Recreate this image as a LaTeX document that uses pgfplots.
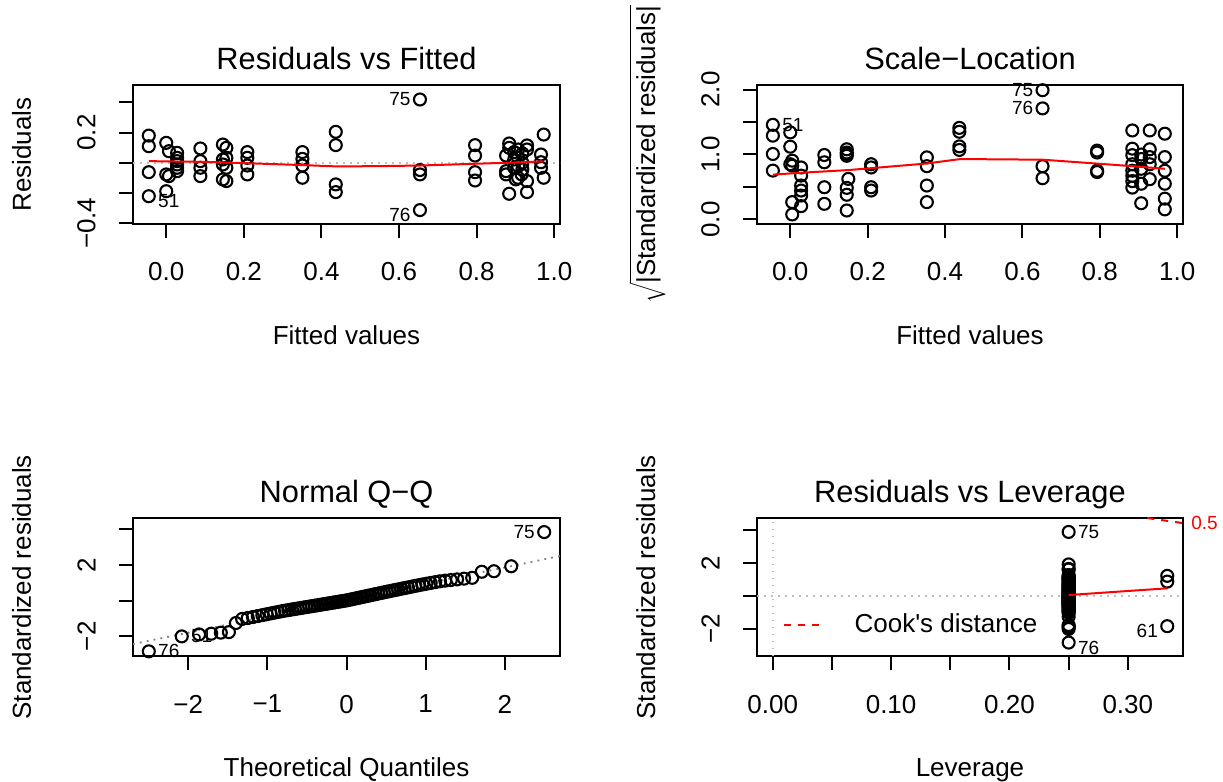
\documentclass[border=0pt]{standalone}
\usepackage{fontspec}
\setmainfont{Liberation Sans}
\usepackage{pgfplots}
\pgfplotsset{compat=1.18}
\definecolor{rgray}{HTML}{BEBEBE}
\definecolor{rgrayfifty}{HTML}{7F7F7F}
\newcommand{\lbl}{\fontsize{13}{15}\selectfont}
\newcommand{\ttl}{\fontsize{15.4}{18}\selectfont}
\newcommand{\idf}{\fontsize{9.5}{11}\selectfont}

\tikzset{idl/.style={font=\idf, inner sep=0pt}}
\pgfplotsset{
  rpanel/.style={
    scale only axis, anchor=south west,
    clip mode=individual,
    axis line style={line width=1pt},
    tick align=outside, major tick length=7pt,
    tick style={black, line width=1pt},
    tick pos=left,
    tick label style={font=\lbl, inner sep=0pt},
    xticklabel style={anchor=north},
    yticklabel style={rotate=90, anchor=south},
    xticklabel shift=12pt,
    yticklabel shift=11.5pt,
    label style={font=\lbl},
    title style={font=\ttl, anchor=base, at={(axis description cs:0.5,1.022)}},
    xlabel style={anchor=base, at={(axis description cs:0.5,-0.866)}},
    ylabel style={anchor=base, at={(axis description cs:-0.239,0.5)}},
  },
  pts/.style={only marks, mark=o, mark size=3pt, mark options={line width=1.05pt}, black},
  fit/.style={red, line width=1pt, no marks},
  refl/.style={rgray, line width=0.9pt, dash pattern=on 0.9pt off 2.6pt, no marks},
}

\begin{document}
\begin{tikzpicture}
\fill[white] (0,0) rectangle (611.5pt,391pt);
\useasboundingbox (0,0) rectangle (611.5pt,391pt);

% Residuals vs Fitted
\begin{axis}[rpanel, at={(66.5pt,279pt)}, width=213.5pt, height=69.5pt,
  xmin=-0.0857, xmax=1.015, ymin=-0.405, ymax=0.515,
  xtick={0,0.2,0.4,0.6,0.8,1}, xticklabels={0.0,0.2,0.4,0.6,0.8,1.0},
  ytick={-0.4,-0.2,0,0.2,0.4}, yticklabels={−0.4,{},{},0.2,{}},
  title={Residuals vs Fitted}, xlabel={Fitted values}, ylabel={Residuals}]
\addplot[refl] coordinates {(-0.0857,0) (1.015,0)};
\addplot[pts] coordinates {
(-0.045,0.180) (-0.045,0.110) (-0.045,-0.062) (-0.045,-0.221)
(0.000,0.132) (0.000,-0.077) (0.000,-0.188) (0.007,0.077) (0.007,-0.088)
(0.028,0.066) (0.028,0.033) (0.028,0.011) (0.028,-0.011) (0.028,-0.033) (0.028,-0.055)
(0.088,0.095) (0.088,0.011) (0.088,-0.033) (0.088,-0.088)
(0.146,0.121) (0.146,0.022) (0.146,-0.011) (0.146,-0.110)
(0.155,0.099) (0.155,0.033) (0.155,-0.033) (0.155,-0.121)
(0.209,0.071) (0.209,0.033) (0.209,-0.018) (0.209,-0.077)
(0.351,0.071) (0.351,0.026) (0.351,-0.018) (0.351,-0.099)
(0.437,0.205) (0.437,0.117) (0.437,-0.143) (0.437,-0.194)
(0.654,0.419) (0.654,-0.048) (0.654,-0.077) (0.654,-0.313)
(0.796,0.117) (0.796,0.048) (0.796,-0.062) (0.796,-0.117)
(0.876,0.048) (0.876,-0.055) (0.876,-0.077)
(0.884,0.128) (0.884,0.099) (0.884,-0.205)
(0.897,0.071) (0.897,0.022) (0.897,-0.033) (0.901,-0.110)
(0.907,0.088) (0.907,0.033) (0.907,-0.022) (0.907,-0.099)
(0.916,-0.077) (0.918,0.062) (0.918,0.000) (0.918,-0.044)
(0.930,0.115) (0.930,0.088) (0.930,-0.121) (0.930,-0.194)
(0.966,0.055) (0.966,0.004) (0.966,-0.033)
(0.973,0.187) (0.973,-0.099)
};
\addplot[fit] coordinates {(-0.045,0.011) (0.1,0.006) (0.2,-0.002) (0.35,-0.015) (0.44,-0.024)
 (0.55,-0.022) (0.654,-0.018) (0.8,-0.006) (0.9,0.002) (0.973,0.010)};
\node[idl, anchor=east, xshift=-4.5pt] at (axis cs:0.654,0.419) {75};
\node[idl, anchor=east, xshift=-4.5pt, yshift=-2.5pt] at (axis cs:0.654,-0.313) {76};
\node[idl, anchor=west, xshift=4.5pt, yshift=-2.5pt] at (axis cs:-0.045,-0.221) {51};
\end{axis}

% Scale-Location
\begin{axis}[rpanel, at={(378.5pt,279pt)}, width=213pt, height=69.5pt,
  xmin=-0.086, xmax=1.015, ymin=-0.07, ymax=2.07,
  xtick={0,0.2,0.4,0.6,0.8,1}, xticklabels={0.0,0.2,0.4,0.6,0.8,1.0},
  ytick={0,0.5,1,1.5,2}, yticklabels={0.0,{},1.0,{},2.0},
  title={Scale−Location}, xlabel={Fitted values},
  ylabel={$\sqrt{\mbox{|Standardized residuals|}}$}]
\addplot[pts] coordinates {
(-0.045,1.457) (-0.045,1.290) (-0.045,1.008) (-0.045,0.752)
(0.000,1.340) (0.000,1.120) (0.000,0.850)
(0.005,0.905) (0.005,0.828) (0.005,0.267) (0.005,0.077)
(0.028,0.800) (0.028,0.675) (0.028,0.522) (0.028,0.445) (0.028,0.368) (0.028,0.205)
(0.088,0.992) (0.088,0.880) (0.088,0.496) (0.088,0.240)
(0.146,1.080) (0.146,1.030) (0.146,1.008) (0.146,0.980) (0.150,0.624) (0.146,0.486) (0.146,0.380) (0.146,0.138)
(0.209,0.850) (0.209,0.800) (0.209,0.496) (0.209,0.445)
(0.353,0.956) (0.353,0.820) (0.353,0.522) (0.353,0.267)
(0.437,1.410) (0.437,1.350) (0.437,1.125) (0.437,1.070)
(0.652,1.990) (0.652,1.710) (0.652,0.820) (0.652,0.635)
(0.793,1.060) (0.793,1.030) (0.793,0.750) (0.793,0.730)
(0.884,1.370) (0.884,1.090) (0.884,0.990) (0.884,0.850) (0.884,0.750) (0.884,0.670) (0.884,0.590) (0.884,0.490)
(0.907,1.000) (0.907,0.930) (0.907,0.780) (0.907,0.550) (0.907,0.250)
(0.929,1.370) (0.929,1.080) (0.929,0.960) (0.929,0.850) (0.929,0.620)
(0.968,1.320) (0.968,0.960) (0.968,0.750) (0.968,0.550) (0.968,0.320) (0.968,0.155)
};
\addplot[fit] coordinates {(-0.045,0.69) (0.03,0.72) (0.15,0.76) (0.21,0.79) (0.35,0.86)
 (0.44,0.93) (0.652,0.92) (0.793,0.86) (0.884,0.82) (0.968,0.78)};
\node[idl, anchor=east, xshift=-4.5pt] at (axis cs:0.652,1.99) {75};
\node[idl, anchor=east, xshift=-4.5pt] at (axis cs:0.652,1.71) {76};
\node[idl, anchor=west, xshift=4.5pt] at (axis cs:-0.045,1.457) {51};
\end{axis}

% Normal Q-Q
\begin{axis}[rpanel, at={(66.5pt,62.75pt)}, width=213.5pt, height=69.25pt,
  xmin=-2.6975, xmax=2.6975, ymin=-3.14, ymax=4.64,
  xtick={-2,-1,0,1,2}, xticklabels={−2,−1,0,1,2},
  ytick={-2,0,2,4}, yticklabels={−2,{},2,{}},
  title={Normal Q−Q}, xlabel={Theoretical Quantiles}, ylabel={Standardized residuals}]
\addplot[rgrayfifty, line width=0.9pt, dash pattern=on 0.9pt off 2.6pt] coordinates {(-2.6975,-2.441) (2.6975,2.501)};
\addplot[pts] coordinates {
(-2.4977,-2.85) (-2.0812,-2.01) (-1.8627,-1.90) (-1.7091,-1.86) (-1.5880,-1.80)
(-1.4857,-1.77) (-1.3971,-1.26) (-1.3185,-1.03) (-1.2473,-0.980) (-1.1815,-0.921)
(-1.1206,-0.867) (-1.0637,-0.816) (-1.0102,-0.768) (-0.9592,-0.722) (-0.9107,-0.679)
(-0.8643,-0.638) (-0.8199,-0.598) (-0.7765,-0.563) (-0.7347,-0.532) (-0.6944,-0.502)
(-0.6547,-0.473) (-0.6166,-0.445) (-0.5791,-0.417) (-0.5425,-0.390) (-0.5066,-0.364)
(-0.4712,-0.338) (-0.4365,-0.312) (-0.4023,-0.287) (-0.3686,-0.262) (-0.3352,-0.237)
(-0.3022,-0.213) (-0.2696,-0.189) (-0.2372,-0.165) (-0.2051,-0.141) (-0.1732,-0.118)
(-0.1415,-0.094) (-0.1099,-0.071) (-0.0785,-0.048) (-0.0471,-0.025) (-0.0157,-0.002)
(0.0157,0.025) (0.0471,0.055) (0.0785,0.085) (0.1099,0.116) (0.1415,0.146)
(0.1732,0.176) (0.2051,0.207) (0.2372,0.238) (0.2696,0.269) (0.3022,0.300)
(0.3352,0.332) (0.3686,0.364) (0.4023,0.396) (0.4365,0.429) (0.4712,0.462)
(0.5066,0.496) (0.5425,0.529) (0.5791,0.562) (0.6166,0.596) (0.6547,0.631)
(0.6944,0.667) (0.7347,0.704) (0.7765,0.742) (0.8199,0.781) (0.8643,0.822)
(0.9107,0.864) (0.9592,0.907) (1.0102,0.948) (1.0637,0.991) (1.1206,1.036)
(1.1815,1.085) (1.2473,1.122) (1.3185,1.155) (1.3971,1.191) (1.4857,1.233)
(1.5880,1.280) (1.7091,1.62) (1.8627,1.65) (2.0812,1.93) (2.4977,3.85)
};
\node[idl, anchor=east, xshift=-4.5pt] at (axis cs:2.4977,3.85) {75};
\node[idl, anchor=west, xshift=4.5pt] at (axis cs:-2.4977,-2.85) {76};
\node[idl, anchor=west, xshift=4.5pt] at (axis cs:-2.0812,-2.01) {51};
\end{axis}

% Residuals vs Leverage
\begin{axis}[rpanel, at={(378.5pt,62.75pt)}, width=213pt, height=69.25pt,
  xmin=-0.0133, xmax=0.3466, ymin=-3.69, ymax=4.76,
  xtick={0,0.05,0.1,0.15,0.2,0.25,0.3}, xticklabels={0.00,{},0.10,{},0.20,{},0.30},
  ytick={-2,0,2,4}, yticklabels={−2,{},2,{}},
  title={Residuals vs Leverage}, xlabel={Leverage}, ylabel={Standardized residuals},
  legend style={draw=none, fill=none, at={(0.045,0.227)}, anchor=west,
    nodes={inner sep=0pt, font=\lbl}},
  legend image code/.code={\draw[#1] (0pt,0pt) -- (20pt,0pt); \path (35pt,0pt);}]
\addplot[refl, forget plot] coordinates {(-0.0133,0) (0.3466,0)};
\addplot[refl, forget plot] coordinates {(0,-3.69) (0,4.76)};
\addplot[pts, forget plot] coordinates {
(0.25,-2.01) (0.25,-1.90) (0.25,-1.86) (0.25,-1.77) (0.25,-1.26) (0.25,-1.03)
(0.25,-0.980) (0.25,-0.921) (0.25,-0.867) (0.25,-0.816) (0.25,-0.768) (0.25,-0.722)
(0.25,-0.679) (0.25,-0.638) (0.25,-0.598) (0.25,-0.563) (0.25,-0.532) (0.25,-0.502)
(0.25,-0.473) (0.25,-0.445) (0.25,-0.417) (0.25,-0.390) (0.25,-0.364) (0.25,-0.338)
(0.25,-0.312) (0.25,-0.287) (0.25,-0.262) (0.25,-0.237) (0.25,-0.213) (0.25,-0.189)
(0.25,-0.165) (0.25,-0.141) (0.25,-0.118) (0.25,-0.094) (0.25,-0.071) (0.25,-0.048)
(0.25,-0.025) (0.25,-0.002) (0.25,0.025) (0.25,0.055) (0.25,0.085) (0.25,0.116)
(0.25,0.146) (0.25,0.176) (0.25,0.207) (0.25,0.238) (0.25,0.269) (0.25,0.300)
(0.25,0.332) (0.25,0.364) (0.25,0.396) (0.25,0.429) (0.25,0.462) (0.25,0.496)
(0.25,0.529) (0.25,0.562) (0.25,0.596) (0.25,0.631) (0.25,0.667) (0.25,0.704)
(0.25,0.742) (0.25,0.781) (0.25,0.822) (0.25,0.907) (0.25,0.948) (0.25,0.991)
(0.25,1.036) (0.25,1.085) (0.25,1.122) (0.25,1.155) (0.25,1.191) (0.25,1.280)
(0.25,1.62) (0.25,1.65) (0.25,1.93) (0.25,3.91) (0.25,-2.84)
(0.3333,1.23) (0.3333,0.88) (0.3333,-1.84)
};
\addplot[fit, forget plot] coordinates {(0.25,0.06) (0.3333,0.47)};
\addplot[red, line width=1pt, dash pattern=on 3.5pt off 3.5pt] coordinates {
(0.3165,4.76) (0.322,4.702) (0.326,4.659) (0.330,4.617) (0.334,4.576) (0.338,4.535) (0.342,4.495) (0.3466,4.449)};
\addlegendentry{Cook\textquotesingle s distance}
\node[idl, anchor=west, xshift=4.5pt] at (axis cs:0.25,3.91) {75};
\node[idl, anchor=west, xshift=4.5pt, yshift=-2.5pt] at (axis cs:0.25,-2.84) {76};
\node[idl, anchor=east, xshift=-4.5pt, yshift=-2.5pt] at (axis cs:0.3333,-1.84) {61};
\node[idl, red, anchor=west, xshift=4pt] at (axis cs:0.3466,4.449) {0.5};
\end{axis}
\end{tikzpicture}
\end{document}
